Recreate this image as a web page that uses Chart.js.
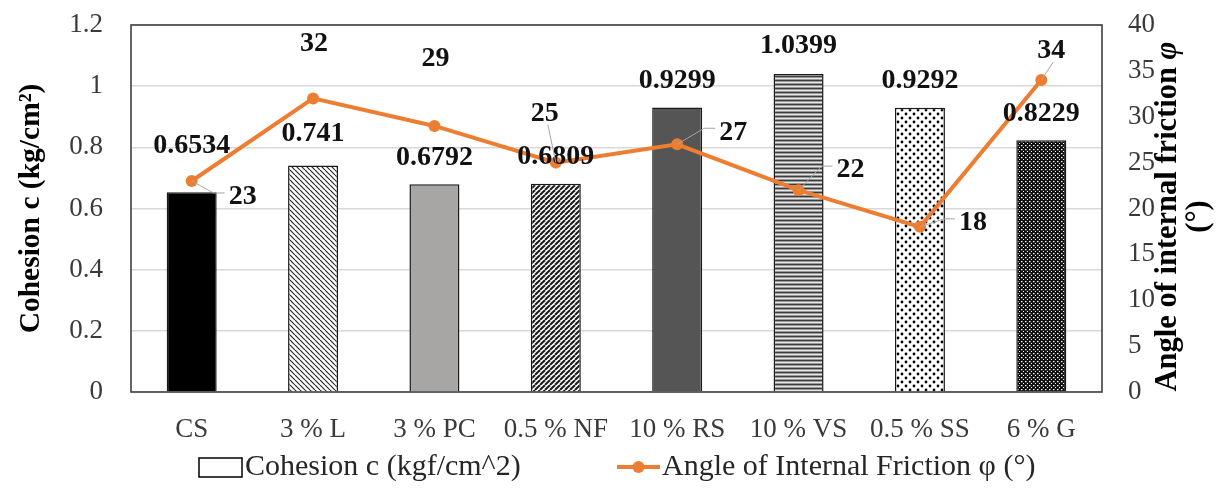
<!DOCTYPE html>
<html>
<head>
<meta charset="utf-8">
<script src="https://cdn.jsdelivr.net/npm/chart.js@4.4.1/dist/chart.umd.min.js"></script>
<style>
  html, body { margin: 0; padding: 0; background: #fff; }
  canvas { display: block; }
</style>
</head>
<body>
<canvas id="c" width="1226" height="491"></canvas>
<script>
// ---- data ----
const categories = ['CS', '3 % L', '3 % PC', '0.5 % NF', '10 % RS', '10 % VS', '0.5 % SS', '6 % G'];
const cohesion = [0.6534, 0.741, 0.6792, 0.6809, 0.9299, 1.0399, 0.9292, 0.8229];
const frictionAngle = [23, 32, 29, 25, 27, 22, 18, 34];
const cohesionTicks = ['0', '0.2', '0.4', '0.6', '0.8', '1', '1.2'];
const angleTicks = ['0', '5', '10', '15', '20', '25', '30', '35', '40'];
const seriesNames = ['Cohesion c (kgf/cm^2)', 'Angle of Internal Friction \u03c6 (\u00b0)'];

// ---- styling ----
const SERIF = "'Liberation Serif', 'Times New Roman', serif";
const ORANGE = '#ED7D31';
const TICK_COLOR = '#3a3a3a';

const canvas = document.getElementById('c');
const ctx = canvas.getContext('2d');

function tile(w, h, bg, paint) {
  const t = document.createElement('canvas');
  t.width = w; t.height = h;
  const g = t.getContext('2d');
  g.fillStyle = bg; g.fillRect(0, 0, w, h);
  paint(g, w, h);
  return ctx.createPattern(t, 'repeat');
}

// fills for each bar
const hatchBack = tile(5, 5, '#fff', (g, s) => {
  g.strokeStyle = '#2b2b2b'; g.lineWidth = 1.2;
  for (const x0 of [-s, 0, s]) { g.beginPath(); g.moveTo(x0, 0); g.lineTo(x0 + s, s); g.stroke(); }
});
const hatchFwd = tile(5, 5, '#fff', (g, s) => {
  g.strokeStyle = '#1a1a1a'; g.lineWidth = 2;
  for (const x0 of [-s, 0, s]) { g.beginPath(); g.moveTo(x0, s); g.lineTo(x0 + s, 0); g.stroke(); }
});
const hLines = tile(4, 4, '#e6e6e6', (g) => {
  g.fillStyle = '#3c3c3c'; g.fillRect(0, 0, 4, 1);
  g.fillStyle = '#9a9a9a'; g.fillRect(0, 1, 4, 1); g.fillRect(0, 3, 4, 1);
});
const dots = tile(8, 8, '#fff', (g) => {
  g.fillStyle = '#000';
  g.beginPath(); g.arc(2, 2, 1.4, 0, Math.PI * 2); g.fill();
  g.beginPath(); g.arc(6, 6, 1.4, 0, Math.PI * 2); g.fill();
});
const denseGrid = tile(4, 4, '#111', (g) => {
  g.fillStyle = '#fff';
  g.fillRect(1, 1, 1.5, 1.2);
  g.fillRect(3, 3, 1, 1);
});
const barFills = ['#000000', hatchBack, '#a8a6a4', hatchFwd, '#555555', hLines, dots, denseGrid];

// label placement (pixels)
const barLabelLift = [46, 32, 27, 27, 27, 28, 27, 27];
const angleLabelShift = [[51, 16], [1, -55], [1, -67], [-11, -49], [56, -12], [52, -20], [53, -4], [10, -29]];
const angleLeader = ['side', null, null, 'up', 'side', 'side', 'side', 'up'];

const decorations = {
  id: 'decorations',
  beforeDatasetsDraw(chart) {
    const { ctx: c, chartArea: a } = chart;
    c.save();
    c.strokeStyle = '#404040';
    c.lineWidth = 1.6;
    c.strokeRect(a.left, a.top, a.right - a.left, a.bottom - a.top);
    c.restore();
  },
  afterDatasetsDraw(chart) {
    const c = chart.ctx;
    const lineMeta = chart.getDatasetMeta(0);
    const barMeta = chart.getDatasetMeta(1);
    c.save();
    c.font = `bold 28px ${SERIF}`;
    c.fillStyle = '#111';
    c.textAlign = 'center';
    c.textBaseline = 'middle';
    // cohesion values above the bars
    barMeta.data.forEach((bar, i) => {
      c.fillText(String(cohesion[i]), bar.x, bar.y - barLabelLift[i]);
    });
    // friction angle values with leader lines
    lineMeta.data.forEach((pt, i) => {
      const txt = String(frictionAngle[i]);
      const lx = pt.x + angleLabelShift[i][0];
      const ly = pt.y + angleLabelShift[i][1];
      const w = c.measureText(txt).width;
      c.strokeStyle = '#a6a6a6';
      c.lineWidth = 1;
      if (angleLeader[i] === 'side') {
        const endX = lx - w / 2 - 4;
        c.beginPath();
        c.moveTo(pt.x, pt.y);
        c.lineTo(endX - 11, ly - 4);
        c.lineTo(endX, ly - 4);
        c.stroke();
      } else if (angleLeader[i] === 'up') {
        c.beginPath();
        c.moveTo(pt.x, pt.y);
        c.lineTo(lx + (pt.x > lx ? 3 : 2), ly + 11);
        c.stroke();
      }
      c.fillStyle = '#111';
      c.fillText(txt, lx, ly);
    });
    c.restore();
  },
  afterDraw(chart) {
    const c = chart.ctx;
    const a = chart.chartArea;
    const midY = (a.top + a.bottom) / 2;
    c.save();
    c.fillStyle = '#000';
    // left axis title
    c.save();
    c.translate(39, midY);
    c.rotate(-Math.PI / 2);
    c.font = `bold 29.5px ${SERIF}`;
    c.textAlign = 'center';
    c.textBaseline = 'alphabetic';
    c.fillText('Cohesion c (kg/cm\u00b2)', 0, 0);
    c.restore();
    // right axis title, two lines, with an italic phi
    c.save();
    c.translate(1176, midY + 8);
    c.rotate(-Math.PI / 2);
    c.textBaseline = 'alphabetic';
    c.textAlign = 'left';
    const part1 = 'Angle of internal friction ';
    const part2 = '\u03c6';
    const fs = 30.5;
    c.font = `bold ${fs}px ${SERIF}`;
    const w1 = c.measureText(part1).width;
    c.font = `italic bold ${fs}px ${SERIF}`;
    const w2 = c.measureText(part2).width;
    const start = -(w1 + w2) / 2;
    c.font = `bold ${fs}px ${SERIF}`;
    c.fillText(part1, start, 0);
    c.font = `italic bold ${fs}px ${SERIF}`;
    c.fillText(part2, start + w1, 0);
    c.font = `bold ${fs}px ${SERIF}`;
    c.textAlign = 'center';
    c.fillText('(\u00b0)', 0, 31);
    c.restore();
    // legend
    const ly = 467;
    c.font = `30px ${SERIF}`;
    c.textBaseline = 'middle';
    c.textAlign = 'left';
    c.fillStyle = '#fff';
    c.fillRect(199, 458, 43, 19);
    c.strokeStyle = '#000';
    c.lineWidth = 1.5;
    c.strokeRect(199, 458, 43, 19);
    c.fillStyle = '#262626';
    c.fillText(seriesNames[0], 245, ly);
    c.strokeStyle = ORANGE;
    c.lineWidth = 4;
    c.beginPath(); c.moveTo(617, ly); c.lineTo(660, ly); c.stroke();
    c.fillStyle = ORANGE;
    c.beginPath(); c.arc(638.5, ly, 6, 0, Math.PI * 2); c.fill();
    c.fillStyle = '#262626';
    c.fillText(seriesNames[1], 662, ly);
    c.restore();
  }
};

function fixY(width) {
  return (s) => { s.width = width; s.paddingTop = 0; s.paddingBottom = 0; };
}

new Chart(ctx, {
  type: 'bar',
  data: {
    labels: categories,
    datasets: [
      {
        type: 'line',
        label: seriesNames[1],
        data: frictionAngle,
        yAxisID: 'y1',
        order: 0,
        borderColor: ORANGE,
        backgroundColor: ORANGE,
        borderWidth: 4,
        pointRadius: 6,
        pointBackgroundColor: ORANGE,
        pointBorderColor: ORANGE,
        pointBorderWidth: 0,
        tension: 0
      },
      {
        type: 'bar',
        label: seriesNames[0],
        data: cohesion,
        yAxisID: 'y',
        order: 1,
        backgroundColor: barFills,
        borderColor: '#1a1a1a',
        borderWidth: 1.5,
        categoryPercentage: 1,
        barPercentage: 0.412
      }
    ]
  },
  options: {
    responsive: false,
    animation: false,
    devicePixelRatio: 1,
    layout: { padding: { top: 25, left: 0, right: 0, bottom: 0 } },
    plugins: { legend: { display: false }, tooltip: { enabled: false } },
    scales: {
      x: {
        grid: { display: false, drawTicks: false },
        border: { display: false },
        ticks: { color: TICK_COLOR, font: { family: SERIF, size: 27 }, padding: 22, maxRotation: 0, autoSkip: false },
        afterFit(s) { s.height = 99; s.paddingLeft = 0; s.paddingRight = 0; }
      },
      y: {
        position: 'left',
        min: 0, max: 1.2,
        ticks: { stepSize: 0.2, color: TICK_COLOR, font: { family: SERIF, size: 27 }, padding: 28,
                 callback: (v, i) => cohesionTicks[i] },
        grid: { color: '#d9d9d9', lineWidth: 1.5, drawTicks: false },
        border: { display: false },
        afterFit: fixY(131)
      },
      y1: {
        position: 'right',
        min: 0, max: 40,
        ticks: { stepSize: 5, color: TICK_COLOR, font: { family: SERIF, size: 27 }, padding: 26,
                 callback: (v, i) => angleTicks[i] },
        grid: { display: false, drawTicks: false },
        border: { display: false },
        afterFit: fixY(124)
      }
    }
  },
  plugins: [decorations]
});
</script>
</body>
</html>
